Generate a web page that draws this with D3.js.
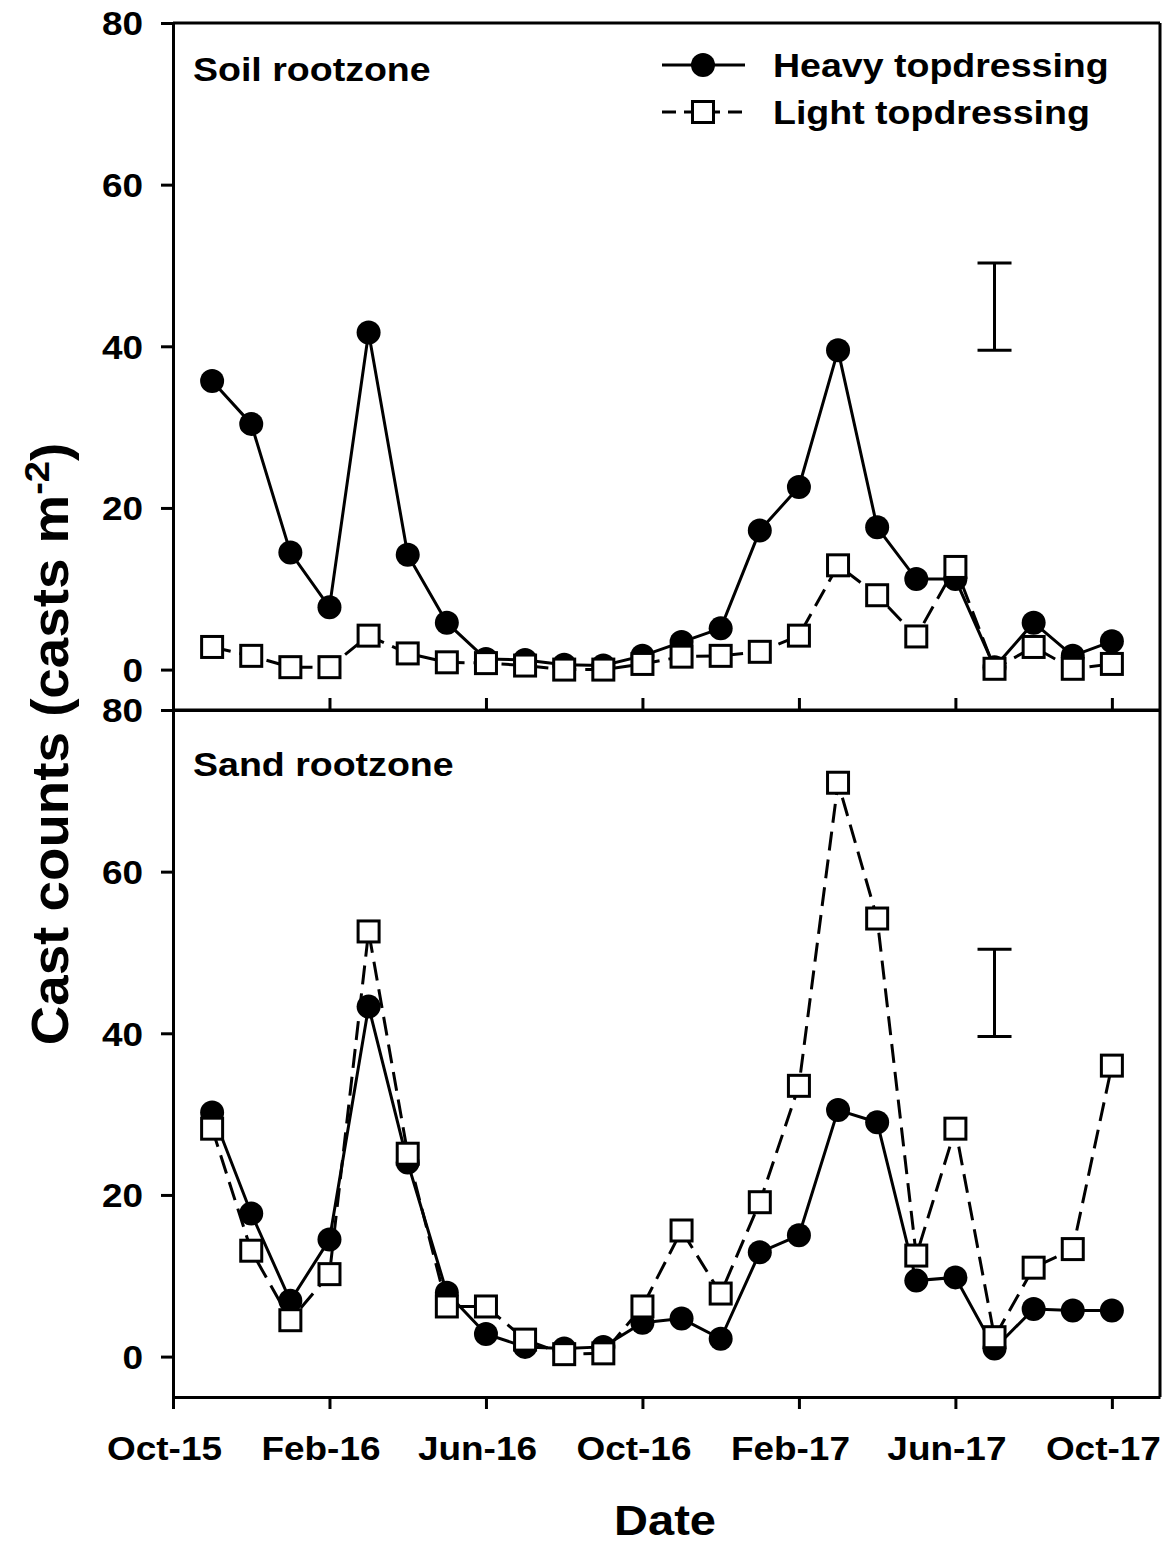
<!DOCTYPE html>
<html><head><meta charset="utf-8">
<script src="https://cdn.jsdelivr.net/npm/d3@7"></script>
<style>
body{margin:0;background:#fff}
svg{display:block}
text{font-family:"Liberation Sans",Arial,Helvetica,sans-serif;font-weight:bold;fill:#000}
</style>
</head><body>
<svg id="chart" width="1171" height="1548"></svg>
<script>
// ---------------- data ----------------
const months = ["Nov-15","Dec-15","Jan-16","Feb-16","Mar-16","Apr-16","May-16","Jun-16",
                "Jul-16","Aug-16","Sep-16","Oct-16","Nov-16","Dec-16","Jan-17","Feb-17",
                "Mar-17","Apr-17","May-17","Jun-17","Jul-17","Aug-17","Sep-17","Oct-17"];
const tickLabels = ["Oct-15","Feb-16","Jun-16","Oct-16","Feb-17","Jun-17","Oct-17"];
const yTickValues = [0, 20, 40, 60, 80];

const soilHeavy = [35.7,30.4,14.5,7.7,41.7,14.2,5.8,1.3,1.2,0.6,0.5,1.7,3.4,5.1,17.2,22.6,39.5,17.6,11.2,11.2,0.3,5.8,1.7,3.5];
const soilLight = [2.8,1.7,0.3,0.3,4.2,2.0,0.9,0.8,0.5,0.0,0.0,0.7,1.6,1.7,2.2,4.2,12.9,9.2,4.1,12.7,0.1,2.8,0.1,0.7];
const sandHeavy = [30.2,17.7,6.9,14.5,43.3,24.0,7.9,2.8,1.2,1.0,1.2,4.2,4.7,2.2,12.9,15.0,30.5,29.0,9.4,9.8,1.0,5.9,5.7,5.7];
const sandLight = [28.2,13.1,4.5,10.2,52.6,25.1,6.2,6.2,2.1,0.3,0.4,6.2,15.6,7.8,19.1,33.5,71.0,54.2,12.5,28.2,2.4,11.0,13.3,36.0];

const lsdMonth = "Jul-17";
const lsdSoil = [39.5, 50.3];
const lsdSand = [39.6, 50.4];

const seriesNames = ["Heavy topdressing", "Light topdressing"];
const panelNames = ["Soil rootzone", "Sand rootzone"];

// ---------------- layout ----------------
const SX = 1.12;            // horizontal glyph stretch of the original
const L = 173, R = 1160;
const panels = [
  {name: panelNames[0], heavy: soilHeavy, light: soilLight, lsd: lsdSoil, top: 23,  bottom: 710, labelY: 81},
  {name: panelNames[1], heavy: sandHeavy, light: sandLight, lsd: lsdSand, top: 710, bottom: 1397, labelY: 776}
];

const svg = d3.select("#chart");
const monthIndex = m => months.indexOf(m) + 1;   // Oct-15 = 0
const x = d3.scaleLinear().domain([0, 25.23]).range([L, R]);
const tickPos = tickLabels.map((d, i) => i * 4);

const lineGen = y => d3.line().x((d, i) => x(i + 1)).y(d => y(d));

panels.forEach((p, pi) => {
  const y = d3.scaleLinear().domain([-5, 80]).range([p.bottom, p.top]);
  const g = svg.append("g");

  // y axis
  const ya = g.append("g").attr("transform", `translate(${L},0)`)
    .call(d3.axisLeft(y).tickValues(yTickValues).tickSize(12).tickSizeOuter(0).tickPadding(18));
  ya.selectAll("text").attr("font-size", 33).attr("dy", "0.36em");

  // x axis
  if (pi === 0) {
    g.append("g").attr("transform", `translate(0,${p.bottom})`)
      .call(d3.axisTop(x).tickValues(tickPos).tickSize(12).tickSizeOuter(0).tickFormat(""));
  } else {
    const xa = g.append("g").attr("transform", `translate(0,${p.bottom})`)
      .call(d3.axisBottom(x).tickValues(tickPos).tickSize(12).tickSizeOuter(0).tickPadding(28)
        .tickFormat((d, i) => tickLabels[i]));
    xa.selectAll("text").attr("font-size", 33).attr("x", -9);
  }
  // top and right frame
  g.append("line").attr("x1", L).attr("x2", R).attr("y1", p.top).attr("y2", p.top);
  g.append("line").attr("x1", R).attr("x2", R).attr("y1", p.top).attr("y2", p.bottom);
  g.selectAll("line").attr("stroke", "#000").attr("stroke-width", 3);
  g.selectAll(".domain").attr("stroke-width", 3);
  g.selectAll(".tick line").attr("stroke-width", 3);

  // panel label
  g.append("text").attr("x", 193).attr("y", p.labelY).attr("font-size", 33.5).text(p.name);

  // LSD bar
  const bx = x(monthIndex(lsdMonth));
  const eb = g.append("g").attr("stroke", "#000").attr("stroke-width", 3);
  eb.append("line").attr("x1", bx).attr("x2", bx).attr("y1", y(p.lsd[0])).attr("y2", y(p.lsd[1]));
  eb.append("line").attr("x1", bx - 17).attr("x2", bx + 17).attr("y1", y(p.lsd[0])).attr("y2", y(p.lsd[0]));
  eb.append("line").attr("x1", bx - 17).attr("x2", bx + 17).attr("y1", y(p.lsd[1])).attr("y2", y(p.lsd[1]));

  // heavy series
  g.append("path").datum(p.heavy).attr("d", lineGen(y)).attr("fill", "none")
    .attr("stroke", "#000").attr("stroke-width", 3);
  g.selectAll("circle.h").data(p.heavy).enter().append("circle").attr("class", "h")
    .attr("cx", (d, i) => x(i + 1)).attr("cy", d => y(d)).attr("r", 12).attr("fill", "#000");

  // light series
  g.append("path").datum(p.light).attr("d", lineGen(y)).attr("fill", "none")
    .attr("stroke", "#000").attr("stroke-width", 3).attr("stroke-dasharray", "19,9");
  g.selectAll("rect.l").data(p.light).enter().append("rect").attr("class", "l")
    .attr("x", (d, i) => x(i + 1) - 10.5).attr("y", d => y(d) - 10.5)
    .attr("width", 21).attr("height", 21).attr("fill", "#fff").attr("stroke", "#000").attr("stroke-width", 3);
});

// legend
const lg = svg.append("g");
const legRows = [{y: 65, name: seriesNames[0], type: "heavy"}, {y: 112, name: seriesNames[1], type: "light"}];
legRows.forEach(r => {
  const ln = lg.append("line").attr("x1", 662).attr("x2", 745).attr("y1", r.y).attr("y2", r.y)
    .attr("stroke", "#000").attr("stroke-width", 3);
  if (r.type === "heavy") {
    lg.append("circle").attr("cx", 703).attr("cy", r.y).attr("r", 12).attr("fill", "#000");
  } else {
    ln.attr("stroke-dasharray", "14,8");
    lg.append("rect").attr("x", 692.5).attr("y", r.y - 10.5).attr("width", 21).attr("height", 21)
      .attr("fill", "#fff").attr("stroke", "#000").attr("stroke-width", 3);
  }
  lg.append("text").attr("x", 773).attr("y", r.y + 12).attr("font-size", 33.5).text(r.name);
});

// axis titles
svg.append("text").attr("x", 665).attr("y", 1535).attr("text-anchor", "middle")
  .attr("font-size", 42).text("Date");

// stretch all simple texts horizontally
svg.selectAll("text").each(function () {
  const len = this.getComputedTextLength();
  if (len > 0) {
    this.setAttribute("textLength", (len * SX).toFixed(1));
    this.setAttribute("lengthAdjust", "spacingAndGlyphs");
  }
});

const yt = svg.append("text")
  .attr("transform", `translate(68,744) rotate(-90) scale(1.19,${SX})`)
  .attr("text-anchor", "middle").attr("font-size", 46);
yt.append("tspan").text("Cast counts (casts m");
yt.append("tspan").attr("font-size", 32).attr("dy", -17).text("-2");
yt.append("tspan").attr("dy", 17).text(")");
</script>
</body></html>
